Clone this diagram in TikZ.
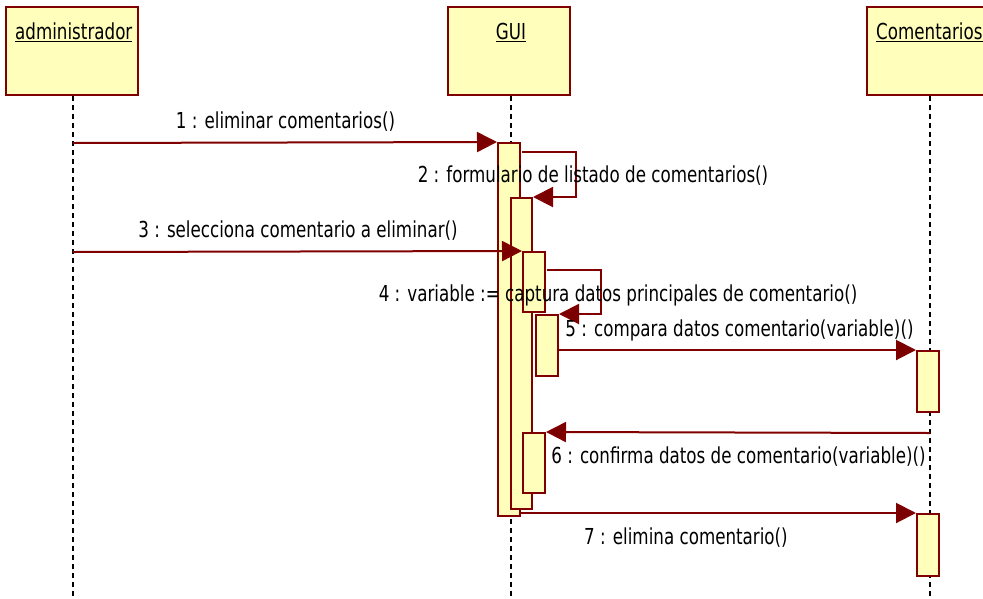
\documentclass[tikz,border=0pt]{standalone}
\usepackage{fontspec}
\setmainfont[FakeStretch=0.76]{DejaVu Sans}
\usetikzlibrary{arrows.meta}
\definecolor{maroon}{HTML}{800000}
\definecolor{tipred}{HTML}{7A0000}
\definecolor{lifefill}{HTML}{FFFFBB}
\begin{document}
\begin{tikzpicture}[x=1pt,y=-1pt,
  obj/.style={draw=maroon, fill=lifefill, line width=2pt, minimum height=88pt, inner sep=0pt},
  act/.style={draw=maroon, fill=lifefill, line width=2pt, minimum width=22pt, inner sep=0pt},
  msg/.style={draw=maroon, line width=2pt, -{Triangle[length=20pt,width=20pt,fill=tipred]}},
  life/.style={black, line width=2pt, dash pattern=on 5pt off 4pt},
  lbl/.style={font=\fontsize{22}{25}\selectfont, inner sep=0pt, text=black}]
\useasboundingbox (0,0) rectangle (983,598);
\fill[white] (0,0) rectangle (983,598);
\clip (0,0) rectangle (983,598);
% objects
\node[obj, minimum width=132pt] (admin) at (72,51) {};
\node[obj, minimum width=122pt] (gui) at (509,51) {};
\node[obj, minimum width=133pt] (com) at (933.5,51) {};
\node[lbl, anchor=west] (tadmin) at (15,32) {\underline{administrador}};
\node[lbl] (tgui) at (511,32) {\underline{GUI}};
\node[lbl, anchor=west] (tcom) at (876,32) {\underline{Comentarios}};
% lifelines
\coordinate (ladm) at (73,598);
\coordinate (lgui) at (511,598);
\coordinate (lcom) at (930,598);
\draw[life] (admin.south -| ladm) -- (ladm);
\draw[life] (gui.south -| lgui) -- (lgui);
\draw[life] (com.south -| lcom) -- (lcom);
% activations
\node[act, minimum height=373pt] (a1) at (509,329.5) {};
\node[act, minimum width=21pt, minimum height=311pt] (a2) at (521.5,353.5) {};
\node[act, minimum height=60pt] (a3) at (534,282) {};
\node[act, minimum height=61pt] (a4) at (547,345.5) {};
\node[act, minimum height=60pt] (a6) at (534,463) {};
\node[act, minimum height=61pt] (a5) at (928,381.5) {};
\node[act, minimum height=62pt] (a7) at (928,545) {};
% messages
\coordinate (s1) at (73,143);
\draw[msg] (s1) -- (a1.north west);
\coordinate (s2) at (522,152);
\coordinate (c2) at (576,152);
\draw[msg] (s2) -- (c2) |- (a2.north east);
\coordinate (s3) at (73,252);
\draw[msg] (s3) -- (a3.north west);
\coordinate (s4) at (547,270);
\coordinate (c4) at (601,270);
\draw[msg] (s4) -- (c4) |- (a4.north east);
\draw[msg] (a5.north west -| a4.east) -- (a5.north west);
\coordinate (s6) at (930,433);
\draw[msg] (s6) -- (a6.north east);
\draw[msg] (a7.north west -| a1.east) -- (a7.north west);
% labels
\node[lbl] (l1) at (285.5,122) {1 : eliminar comentarios()};
\node[lbl] (l2) at (593,176) {2 : formulario de listado de comentarios()};
\node[lbl] (l3) at (298,231) {3 : selecciona comentario a eliminar()};
\node[lbl] (l4) at (618,295) {4 : variable := captura datos principales de comentario()};
\node[lbl] (l5) at (739.5,330) {5 : compara datos comentario(variable)()};
\node[lbl] (l6) at (738.5,457) {6 : confirma datos de comentario(variable)()};
\node[lbl] (l7) at (686,538) {7 : elimina comentario()};
\end{tikzpicture}
\end{document}
